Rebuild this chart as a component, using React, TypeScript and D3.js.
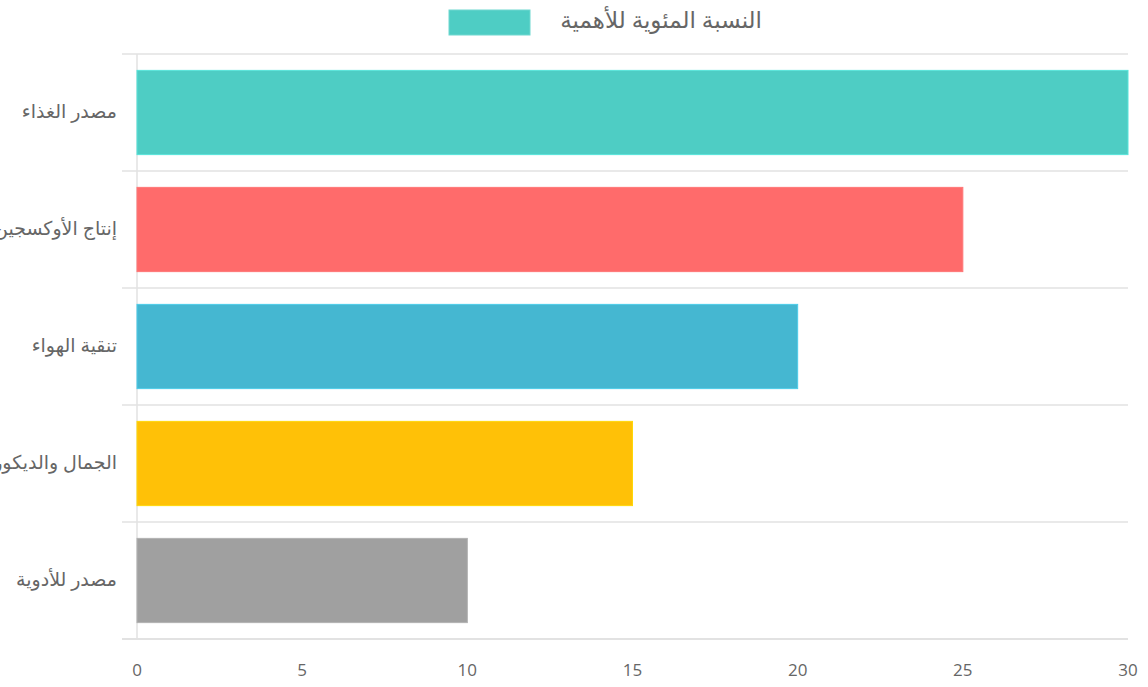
import React from 'react';
import * as d3 from 'd3';

const categories = ['مصدر الغذاء', 'إنتاج الأوكسجين', 'تنقية الهواء', 'الجمال والديكور', 'مصدر للأدوية'];
const values = [30, 25, 20, 15, 10];
const colors = ['#4ECDC4', '#FF6B6B', '#45B7D1', '#FFC107', '#A0A0A0'];
const xTicks = [0, 5, 10, 15, 20, 25, 30];
const legendLabel = 'النسبة المئوية للأهمية';

const W = 1148;
const H = 687;
const margin = { top: 54, right: 20, bottom: 48, left: 137 };

const App = () => {
  const x = d3.scaleLinear().domain([0, 30]).range([margin.left, 1128]);
  const y = d3.scaleBand().domain(categories).range([margin.top, H - margin.bottom]);
  const barH = y.bandwidth() * 0.72;
  const font = '"Open Sans", "DejaVu Sans", sans-serif';
  const gridColor = '#e2e2e2';

  return (
    <svg width={W} height={H} style={{ position: 'absolute', left: 0, top: 0, background: '#fff' }}>
      {/* legend */}
      <rect x={449} y={10} width={81} height={25} fill="#4ECDC4" stroke="#6fd8d0" strokeWidth={1} />
      <text x={762} y={28} textAnchor="end" fontFamily={font} fontSize={23} fill="#666">
        {legendLabel}
      </text>

      {/* category grid lines */}
      {categories.map((c) => (
        <line key={c} x1={122} x2={1128} y1={y(c)} y2={y(c)} stroke={gridColor} strokeWidth={1.5} />
      ))}
      <line x1={122} x2={1128} y1={y.range()[1]} y2={y.range()[1]} stroke={gridColor} strokeWidth={2} />
      <line x1={x(0)} x2={x(0)} y1={margin.top} y2={y.range()[1]} stroke={gridColor} strokeWidth={1.5} />

      {/* bars */}
      {categories.map((c, i) => (
        <rect
          key={c}
          x={x(0)}
          y={(y(c) as number) + (y.bandwidth() - barH) / 2}
          width={x(values[i]) - x(0)}
          height={barH}
          fill={colors[i]}
          stroke={d3.color(colors[i])!.brighter(0.3).formatHex()}
          strokeWidth={1}
        />
      ))}

      {/* category labels (clipped at the left edge, as in the original) */}
      {categories.map((c) => (
        <text
          key={c}
          x={117}
          y={(y(c) as number) + y.bandwidth() / 2 + 5}
          textAnchor="end"
          fontFamily={font}
          fontSize={19}
          fill="#666"
        >
          {c}
        </text>
      ))}

      {/* x ticks */}
      {xTicks.map((t) => (
        <text key={t} x={x(t)} y={676} textAnchor="middle" fontFamily={font} fontSize={17} fill="#666">
          {t}
        </text>
      ))}
    </svg>
  );
};

export default App;
